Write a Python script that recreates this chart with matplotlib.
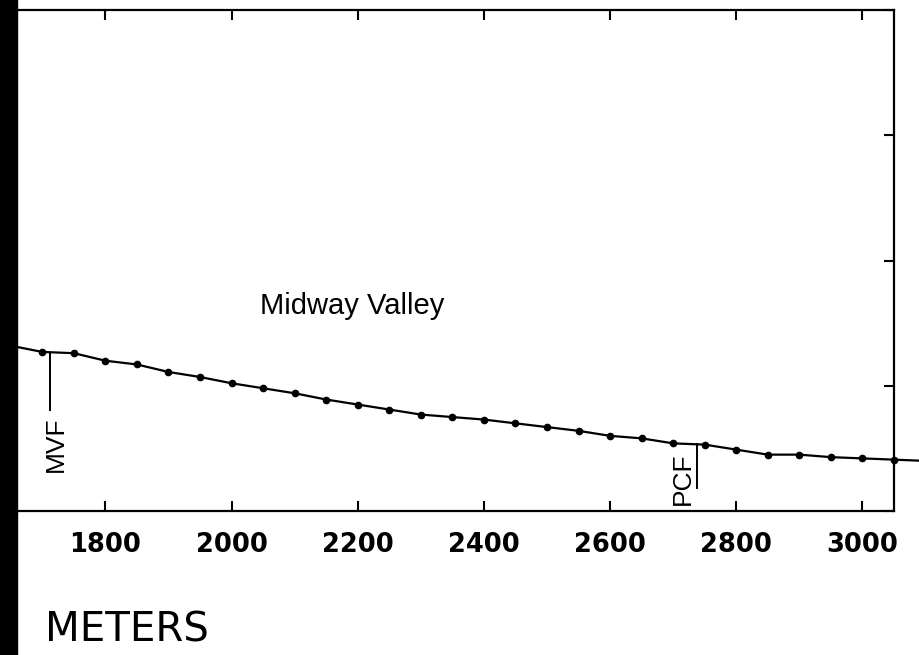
import matplotlib.pyplot as plt
from matplotlib.patches import Rectangle

# profile across Midway Valley, sampled every 50 m
dist = [1650, 1700, 1750, 1800, 1850, 1900, 1950, 2000, 2050, 2100, 2150,
        2200, 2250, 2300, 2350, 2400, 2450, 2500, 2550, 2600, 2650, 2700,
        2750, 2800, 2850, 2900, 2950, 3000, 3050, 3100]
elev = [1132, 1127, 1126, 1120, 1117, 1111, 1107, 1102, 1098, 1094, 1089,
        1085, 1081, 1077, 1075, 1073, 1070, 1067, 1064, 1060, 1058, 1054,
        1053, 1049, 1045, 1045, 1043, 1042, 1041, 1040]

xticks = [1800, 2000, 2200, 2400, 2600, 2800, 3000]
yticks = [1000, 1100, 1200, 1300, 1400]

# fault markers: (label, position, top, bottom, text x, text y)
faults = [("MVF", 1713, 1126.5, 1080.6, 1721, 1053),
          ("PCF", 2738, 1053.2, 1018.4, 2715, 1026)]

fig = plt.figure(figsize=(9.2, 6.55), dpi=100)
ax = fig.add_axes([17 / 920, 144 / 655, 877 / 920, 501 / 655])

ax.plot(dist, elev, color='black', lw=1.6, marker='o', ms=4.5,
        markevery=list(range(1, len(dist) - 1)), clip_on=False, zorder=3)

for name, x, top, bot, tx, ty in faults:
    ax.plot([x, x], [top, bot], color='black', lw=1.4)
    ax.text(tx, ty, name, rotation=90, ha='center', va='center',
            fontsize=19, family='Liberation Sans')

ax.text(2191, 1164, "Midway Valley", ha='center', va='center',
        fontsize=21, family='Liberation Sans')

ax.set_xlim(1660, 3050)
ax.set_ylim(1000, 1400)
ax.set_xticks(xticks)
ax.set_xticklabels([str(t) for t in xticks])
ax.set_yticks(yticks)
ax.tick_params(axis='x', direction='in', top=True, bottom=True,
               length=7, width=1.5, labelsize=18.5, pad=15)
ax.tick_params(axis='y', direction='in', left=False, right=True,
               labelleft=False, length=7, width=1.5)
for lab in ax.get_xticklabels():
    lab.set_fontweight('bold')
for side in ['top', 'bottom', 'right']:
    ax.spines[side].set_linewidth(1.6)
ax.spines['left'].set_visible(False)

fig.text(45 / 920, 1 - 631 / 655, "METERS", ha='left', va='center',
         fontsize=29)

# dark scan edge on the left
fig.add_artist(Rectangle((0, 0), 17 / 920, 1, transform=fig.transFigure,
                         color='black', zorder=10))

fig.savefig("out.png", dpi=100)
